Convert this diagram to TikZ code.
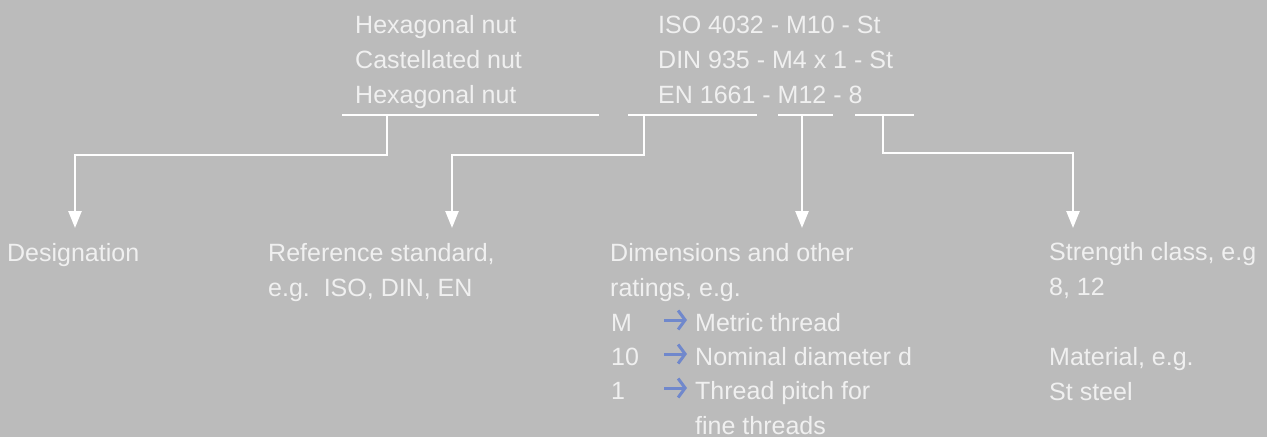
\documentclass[tikz,border=0pt]{standalone}
\usepackage{fontspec}
\setmainfont{Liberation Sans}
\usetikzlibrary{arrows.meta}

\definecolor{bg}{RGB}{187,187,187}
\definecolor{txt}{RGB}{240,240,240}
\definecolor{hintblue}{RGB}{112,136,204}

\tikzset{
  lbl/.style={anchor=base west, inner sep=0pt, text=txt, align=left,
    font=\fontsize{25}{34.8}\selectfont},
  bar/.style={draw=white, line width=2.5pt},
  conn/.style={draw=white, line width=2.5pt, -{Triangle[length=17pt,width=13pt]}},
  hint/.style={draw=hintblue, line width=3pt, -{Straight Barb[length=7pt,width=19pt]}}
}

\begin{document}
\begin{tikzpicture}[x=1pt,y=1pt]
  \fill[bg] (0,0) rectangle (1267,-437);
  \useasboundingbox (0,0) rectangle (1267,-437);

  % designation example (base = last line)
  \node[lbl] (names) at (355,-103) {Hexagonal nut\\Castellated nut\\Hexagonal nut};
  \node[lbl] (codes) at (658,-103) {ISO 4032 - M10 - St\\DIN 935 - M4 x 1 - St\\EN 1661 - M12 - 8};

  % underlines
  \coordinate (u1a) at (342,-115); \coordinate (u1b) at (599,-115);
  \coordinate (u2a) at (628,-115); \coordinate (u2b) at (757,-115);
  \coordinate (u3a) at (778,-115); \coordinate (u3b) at (833,-115);
  \coordinate (u4a) at (855,-115); \coordinate (u4b) at (914,-115);
  \draw[bar] (u1a) -- (u1b) (u2a) -- (u2b) (u3a) -- (u3b) (u4a) -- (u4b);

  \coordinate (m1) at (387,-115);
  \coordinate (m2) at (644,-115);
  \coordinate (m3) at (802,-115);
  \coordinate (m4) at (883,-115);
  \coordinate (t1) at (75,-228);
  \coordinate (t2) at (452,-228);
  \coordinate (t3) at (802,-228);
  \coordinate (t4) at (1073,-228);

  % meanings
  \node[lbl] (desig) at (7,-261) {Designation};
  \node[lbl] (refstd) at (268,-296) {Reference standard,\\e.g.\ \ ISO, DIN, EN};
  \node[lbl] (dims) at (610,-296) {Dimensions and other\\ratings, e.g.};
  \node[lbl] (keyM) at (611,-331) {M};
  \node[lbl] (key10) at (611,-365) {10};
  \node[lbl] (key1) at (611,-399) {1};
  \node[lbl] (descM) at (695,-331) {Metric thread};
  \node[lbl] (desc10) at (695,-365) {Nominal diameter d};
  \node[lbl] (desc1) at (695,-434) {Thread pitch for\\fine threads};
  \node[lbl] (strength) at (1049,-400) {Strength class, e.g\\8, 12\\ \\Material, e.g.\\St steel};

  \draw[conn] (m1) -- ++(0,-40) -| (t1);
  \draw[conn] (m2) -- ++(0,-40) -| (t2);
  \draw[conn] (m3) -- (t3);
  \draw[conn] (m4) -- ++(0,-38) -| (t4);

  \draw[hint] ([xshift=53pt,yshift=11pt]keyM.base west) -- ([xshift=76pt,yshift=11pt]keyM.base west);
  \draw[hint] ([xshift=53pt,yshift=11pt]key10.base west) -- ([xshift=76pt,yshift=11pt]key10.base west);
  \draw[hint] ([xshift=53pt,yshift=11pt]key1.base west) -- ([xshift=76pt,yshift=11pt]key1.base west);
\end{tikzpicture}
\end{document}
